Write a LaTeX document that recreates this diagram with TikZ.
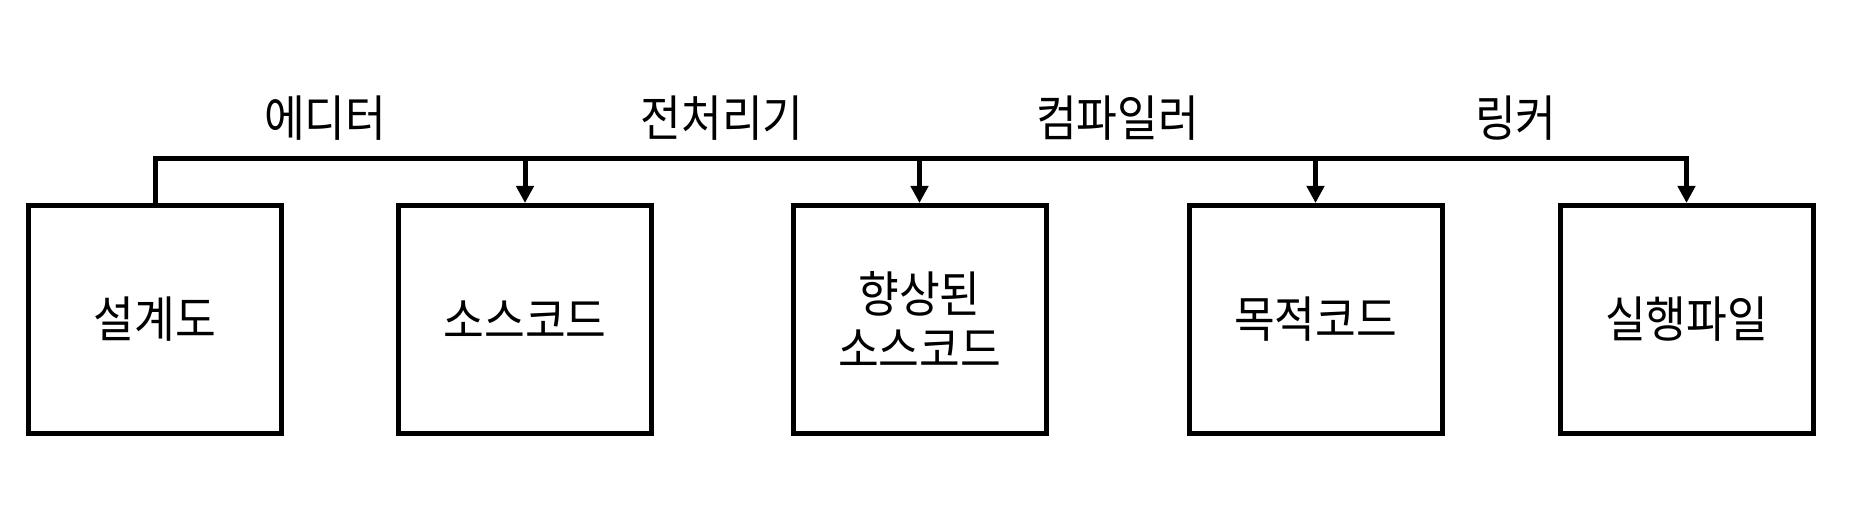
\documentclass[tikz,border=0pt]{standalone}
\usepackage{fontspec}
\newfontfamily\krfont[FakeStretch=0.9]{Noto Sans CJK KR}
\usetikzlibrary{positioning, arrows.meta}

\begin{document}
\begin{tikzpicture}[
    node distance=2.24cm,
    box/.style={rectangle, draw, line width=0.1cm, minimum width=5.06cm, minimum height=4.56cm, align=center, font=\krfont\fontsize{28}{31}\selectfont},
    tag/.style={font=\krfont\fontsize{28}{31}\selectfont, yshift=0.82cm},
    feed/.style={line width=0.1cm, -{Triangle[length=0.34cm, width=0.34cm]}}
]
\useasboundingbox (0,0) rectangle (37.12,-10.26);

\node[box] (design) at (3.10,-6.39) {설계도};
\node[box, right=of design] (source) {소스코드};
\node[box, right=2.73cm of source] (expanded) {향상된\\소스코드};
\node[box, right=2.76cm of expanded] (object) {목적코드};
\node[box, right=2.26cm of object] (program) {실행파일};

\draw[feed] (design.north) -- ++(0,0.88) coordinate (bus) -| (program.north);
\draw[feed] (source.north |- bus) -- (source.north);
\draw[feed] (expanded.north |- bus) -- (expanded.north);
\draw[feed] (object.north |- bus) -- (object.north);

\path (design.north |- bus) -- node[tag, pos=0.46] (editor) {에디터} (source.north |- bus);
\path (source.north |- bus) -- node[tag] (preproc) {전처리기} (expanded.north |- bus);
\path (expanded.north |- bus) -- node[tag] (compiler) {컴파일러} (object.north |- bus);
\path (object.north |- bus) -- node[tag, pos=0.54] (linker) {링커} (program.north |- bus);

\end{tikzpicture}
\end{document}
